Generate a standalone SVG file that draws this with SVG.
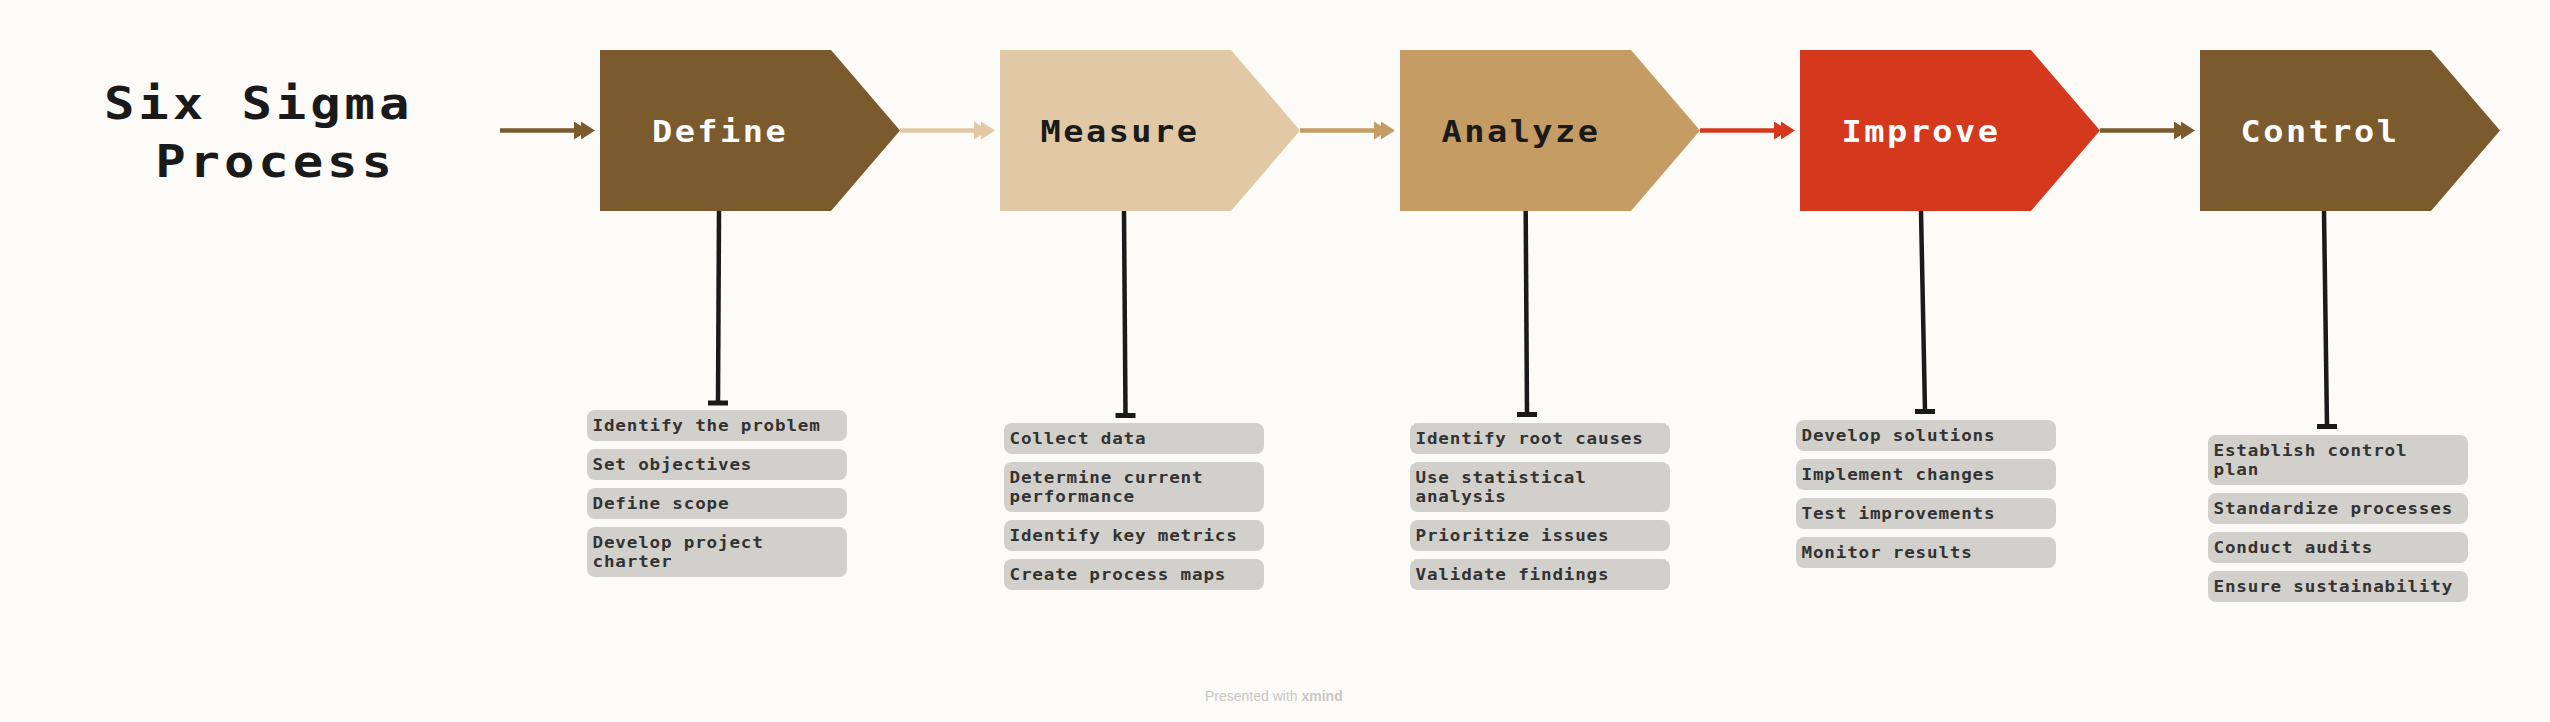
<svg xmlns="http://www.w3.org/2000/svg" xmlns:xlink="http://www.w3.org/1999/xlink" width="2550" height="722" viewBox="0 0 2550 722">
<style>
.title{font-family:"DejaVu Sans Mono","Liberation Mono",monospace;font-weight:bold;font-size:44px;letter-spacing:3.4px;fill:#1a1a1a}
.lbl{font-family:"DejaVu Sans Mono","Liberation Mono",monospace;font-weight:bold;font-size:30px;letter-spacing:2.2px;text-anchor:middle}
.lw{fill:#ffffff}
.ld{fill:#1a1a1a}
.item rect{fill:#D2D0CB}
.item text{font-family:"DejaVu Sans Mono","Liberation Mono",monospace;font-weight:bold;font-size:16px;letter-spacing:0.75px;fill:#333333}
.h{stroke-width:4.5;fill:none}
.v{stroke:#1a1a1a;stroke-width:4.5;fill:none}
.tb{fill:#1a1a1a}
.foot{font-family:"Liberation Sans","Open Sans",sans-serif;font-size:14px;fill:#c9c7c3}
</style>
<defs>
<path id="chev" d="M0,0 H231 L300,80.5 L231,161 H0 Z"/>
<path id="dah" d="M-21,-9 L-7,0 L-21,9 Z M-14,-9 L0,0 L-14,9 Z"/>
</defs>
<rect x="0" y="0" width="2550" height="722" fill="#FCFBF7"/>

<g id="title" transform="translate(104,0) scale(1.15,1)">
<text class="title" x="0" y="119">Six Sigma</text>
<text class="title" x="44.5" y="177">Process</text>
</g>

<g id="connectors">
<line class="h" x1="500" y1="130.5" x2="585" y2="130.5" stroke="#7B5A2E"/>
<use xlink:href="#dah" x="595" y="130.5" fill="#7B5A2E"/>
<line class="h" x1="900" y1="130.5" x2="985" y2="130.5" stroke="#E0C9A4"/>
<use xlink:href="#dah" x="995" y="130.5" fill="#E0C9A4"/>
<line class="h" x1="1300" y1="130.5" x2="1385" y2="130.5" stroke="#C49C64"/>
<use xlink:href="#dah" x="1395" y="130.5" fill="#C49C64"/>
<line class="h" x1="1700" y1="130.5" x2="1785" y2="130.5" stroke="#D4391E"/>
<use xlink:href="#dah" x="1795" y="130.5" fill="#D4391E"/>
<line class="h" x1="2100" y1="130.5" x2="2185" y2="130.5" stroke="#7B5A2E"/>
<use xlink:href="#dah" x="2195" y="130.5" fill="#7B5A2E"/>

<line class="v" x1="719" y1="211" x2="718" y2="403"/>
<rect class="tb" x="708" y="400.5" width="20" height="5"/>
<line class="v" x1="1124" y1="211" x2="1125.5" y2="415"/>
<rect class="tb" x="1115.5" y="413" width="20" height="5"/>
<line class="v" x1="1525.7" y1="211" x2="1527" y2="414"/>
<rect class="tb" x="1517" y="412" width="20" height="5"/>
<line class="v" x1="1921" y1="211" x2="1925" y2="411"/>
<rect class="tb" x="1915" y="409" width="20" height="5"/>
<line class="v" x1="2324" y1="211" x2="2327" y2="426"/>
<rect class="tb" x="2317" y="424" width="20" height="5"/>
</g>

<g id="define">
<use xlink:href="#chev" x="600" y="50" fill="#7B5A2E"/>
<text class="lbl lw" transform="translate(720,142) scale(1.12,1)">Define</text>
</g>
<g id="measure">
<use xlink:href="#chev" x="1000" y="50" fill="#E0C9A4"/>
<text class="lbl ld" transform="translate(1120,142) scale(1.12,1)">Measure</text>
</g>
<g id="analyze">
<use xlink:href="#chev" x="1400" y="50" fill="#C49C64"/>
<text class="lbl ld" transform="translate(1521,142) scale(1.12,1)">Analyze</text>
</g>
<g id="improve">
<use xlink:href="#chev" x="1800" y="50" fill="#D4391E"/>
<text class="lbl lw" transform="translate(1921,142) scale(1.12,1)">Improve</text>
</g>
<g id="control">
<use xlink:href="#chev" x="2200" y="50" fill="#7B5A2E"/>
<text class="lbl lw" transform="translate(2320,142) scale(1.12,1)">Control</text>
</g>

<g id="define-items" class="item">
<rect x="587" y="410" width="260" height="31" rx="8"/>
<rect x="587" y="449" width="260" height="31" rx="8"/>
<rect x="587" y="488" width="260" height="31" rx="8"/>
<rect x="587" y="527" width="260" height="50" rx="8"/>
<g transform="translate(592.5,0) scale(1.1,1)">
<text x="0" y="431">Identify the problem</text>
<text x="0" y="470">Set objectives</text>
<text x="0" y="509">Define scope</text>
<text x="0" y="548">Develop project</text>
<text x="0" y="567">charter</text>
</g>
</g>

<g id="measure-items" class="item">
<rect x="1004" y="423" width="260" height="31" rx="8"/>
<rect x="1004" y="462" width="260" height="50" rx="8"/>
<rect x="1004" y="520" width="260" height="31" rx="8"/>
<rect x="1004" y="559" width="260" height="31" rx="8"/>
<g transform="translate(1009.5,0) scale(1.1,1)">
<text x="0" y="444">Collect data</text>
<text x="0" y="483">Determine current</text>
<text x="0" y="502">performance</text>
<text x="0" y="541">Identify key metrics</text>
<text x="0" y="580">Create process maps</text>
</g>
</g>

<g id="analyze-items" class="item">
<rect x="1410" y="423" width="260" height="31" rx="8"/>
<rect x="1410" y="462" width="260" height="50" rx="8"/>
<rect x="1410" y="520" width="260" height="31" rx="8"/>
<rect x="1410" y="559" width="260" height="31" rx="8"/>
<g transform="translate(1415.5,0) scale(1.1,1)">
<text x="0" y="444">Identify root causes</text>
<text x="0" y="483">Use statistical</text>
<text x="0" y="502">analysis</text>
<text x="0" y="541">Prioritize issues</text>
<text x="0" y="580">Validate findings</text>
</g>
</g>

<g id="improve-items" class="item">
<rect x="1796" y="420" width="260" height="31" rx="8"/>
<rect x="1796" y="459" width="260" height="31" rx="8"/>
<rect x="1796" y="498" width="260" height="31" rx="8"/>
<rect x="1796" y="537" width="260" height="31" rx="8"/>
<g transform="translate(1801.5,0) scale(1.1,1)">
<text x="0" y="441">Develop solutions</text>
<text x="0" y="480">Implement changes</text>
<text x="0" y="519">Test improvements</text>
<text x="0" y="558">Monitor results</text>
</g>
</g>

<g id="control-items" class="item">
<rect x="2208" y="435" width="260" height="50" rx="8"/>
<rect x="2208" y="493" width="260" height="31" rx="8"/>
<rect x="2208" y="532" width="260" height="31" rx="8"/>
<rect x="2208" y="571" width="260" height="31" rx="8"/>
<g transform="translate(2213.5,0) scale(1.1,1)">
<text x="0" y="456">Establish control</text>
<text x="0" y="475">plan</text>
<text x="0" y="514">Standardize processes</text>
<text x="0" y="553">Conduct audits</text>
<text x="0" y="592">Ensure sustainability</text>
</g>
</g>

<g id="footer">
<text class="foot" x="1205" y="701">Presented with <tspan font-weight="bold">xmind</tspan></text>
</g>
</svg>
